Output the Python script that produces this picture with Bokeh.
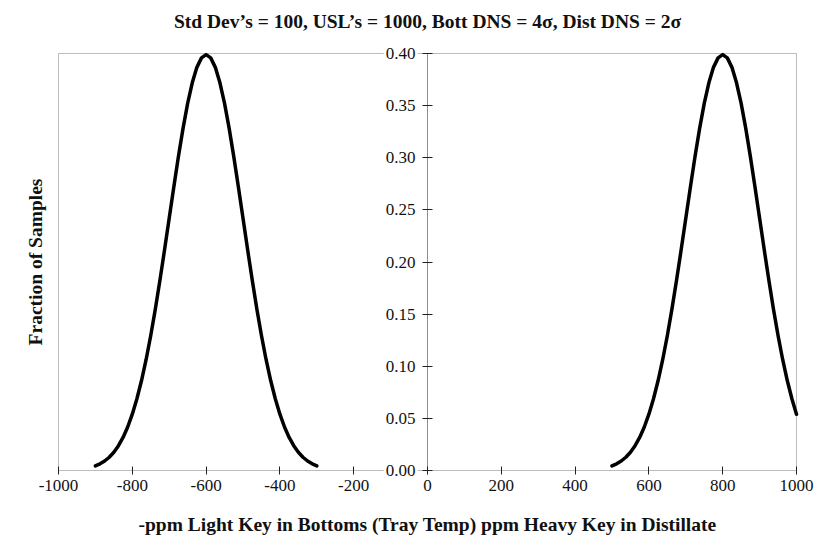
import math
from bokeh.plotting import figure
from bokeh.models import (Range1d, LinearAxis, FixedTicker, Label, BoxAnnotation)
from bokeh.embed import file_html
from bokeh.resources import INLINE

# ---- data ----
bott_x = [-900, -887.5, -875, -862.5, -850, -837.5, -825, -812.5, -800, -787.5, -775, -762.5,
          -750, -737.5, -725, -712.5, -700, -687.5, -675, -662.5, -650, -637.5, -625, -612.5,
          -600, -587.5, -575, -562.5, -550, -537.5, -525, -512.5, -500, -487.5, -475, -462.5,
          -450, -437.5, -425, -412.5, -400, -387.5, -375, -362.5, -350, -337.5, -325, -312.5, -300]
bott_y = [0.0044, 0.0064, 0.0091, 0.0127, 0.0175, 0.0238, 0.0317, 0.0417, 0.0540, 0.0688,
          0.0863, 0.1065, 0.1295, 0.1550, 0.1827, 0.2119, 0.2420, 0.2720, 0.3011, 0.3282,
          0.3521, 0.3719, 0.3867, 0.3958, 0.3989, 0.3958, 0.3867, 0.3719, 0.3521, 0.3282,
          0.3011, 0.2720, 0.2420, 0.2119, 0.1827, 0.1550, 0.1295, 0.1065, 0.0863, 0.0688,
          0.0540, 0.0417, 0.0317, 0.0238, 0.0175, 0.0127, 0.0091, 0.0064, 0.0044]
dist_x = [500, 512.5, 525, 537.5, 550, 562.5, 575, 587.5, 600, 612.5, 625, 637.5, 650, 662.5,
          675, 687.5, 700, 712.5, 725, 737.5, 750, 762.5, 775, 787.5, 800, 812.5, 825, 837.5,
          850, 862.5, 875, 887.5, 900, 912.5, 925, 937.5, 950, 962.5, 975, 987.5, 1000]
dist_y = [0.0044, 0.0064, 0.0091, 0.0127, 0.0175, 0.0238, 0.0317, 0.0417, 0.0540, 0.0688,
          0.0863, 0.1065, 0.1295, 0.1550, 0.1827, 0.2119, 0.2420, 0.2720, 0.3011, 0.3282,
          0.3521, 0.3719, 0.3867, 0.3958, 0.3989, 0.3958, 0.3867, 0.3719, 0.3521, 0.3282,
          0.3011, 0.2720, 0.2420, 0.2119, 0.1827, 0.1550, 0.1295, 0.1065, 0.0863, 0.0688,
          0.0540]
x_ticks = [-1000, -800, -600, -400, -200, 0, 200, 400, 600, 800, 1000]
x_tick_labels = ["-1000", "-800", "-600", "-400", "-200", "0", "200", "400", "600", "800", "1000"]
y_ticks = [0.0, 0.05, 0.10, 0.15, 0.20, 0.25, 0.30, 0.35, 0.40]
y_tick_labels = ["0.00", "0.05", "0.10", "0.15", "0.20", "0.25", "0.30", "0.35", "0.40"]

title_text = "Std Dev\u2019s = 100, USL\u2019s = 1000, Bott DNS = 4\u03c3, Dist DNS = 2\u03c3"
x_label = "-ppm Light Key in Bottoms (Tray Temp) ppm Heavy Key in Distillate"
y_label = "Fraction of Samples"

FONT = "Liberation Serif"
AX = "#222222"
TXT = "#111111"

# layout (pixels): the plotted box spans x 58..796, y 53..470; the drawing frame
# covers the whole canvas so that no text is clipped.
W, H = 815, 537
BOX_LEFT, BOX_RIGHT = 58, 796
BOX_TOP, BOX_BOTTOM = 53, 470
x0, x1 = x_ticks[0], x_ticks[-1]
y0, y1 = y_ticks[0], y_ticks[-1]
xpp = (x1 - x0) / (BOX_RIGHT - BOX_LEFT)
ypp = (y1 - y0) / (BOX_BOTTOM - BOX_TOP)
xmid = (x0 + x1) / 2
ymid = (y0 + y1) / 2

p = figure(width=W, height=H, output_backend="svg", toolbar_location=None,
           x_range=Range1d(x0 - BOX_LEFT * xpp, x1 + (W - BOX_RIGHT) * xpp),
           y_range=Range1d(y0 - (H - BOX_BOTTOM) * ypp, y1 + BOX_TOP * ypp),
           y_axis_location=None, x_axis_location="below",
           min_border_left=0, min_border_right=0,
           min_border_top=0, min_border_bottom=0)
p.outline_line_color = None
p.xgrid.visible = False
p.ygrid.visible = False
p.background_fill_color = "white"
p.border_fill_color = "white"

# curves
p.line(bott_x, bott_y, line_color="black", line_width=3.5, line_cap="round", line_join="round")
p.line(dist_x, dist_y, line_color="black", line_width=3.5, line_cap="round", line_join="round")

# bottom x axis (ticks and labels), fixed at y = 0; its line is the box edge
xa = p.xaxis[0]
xa.fixed_location = y0
xa.ticker = FixedTicker(ticks=x_ticks)
xa.major_label_overrides = {t: s for t, s in zip(x_ticks, x_tick_labels)}
xa.minor_tick_line_color = None
xa.major_tick_in = 4
xa.major_tick_out = 4
xa.axis_line_color = None
xa.major_tick_line_color = AX
xa.major_label_text_font = FONT
xa.major_label_text_font_size = "17px"
xa.major_label_text_color = TXT
xa.major_label_standoff = 5

# plot box
p.add_layout(BoxAnnotation(left=x0, right=x1, bottom=y0, top=y1,
                           fill_alpha=0, fill_color=None, line_color=AX, line_width=1))
# central y axis line and ticks at x = 0
p.add_layout(BoxAnnotation(left=xmid, right=xmid, bottom=y0, top=y1,
                           fill_alpha=0, fill_color=None, line_color=AX, line_width=1))
ya = LinearAxis(ticker=FixedTicker(ticks=y_ticks), fixed_location=xmid,
                axis_line_color=None, major_tick_line_color=AX,
                minor_tick_line_color=None, major_tick_in=5, major_tick_out=5,
                major_label_overrides={t: "" for t in y_ticks}, major_label_standoff=0)
p.add_layout(ya, "left")

lab_props = Label.properties()
for t, s in zip(y_ticks, y_tick_labels):
    kw = dict(x=xmid, y=t, text=s, x_offset=-10, text_align="right",
              text_baseline="middle", text_font=FONT, text_font_size="17px",
              text_color=TXT, background_fill_color="white")
    if "padding" in lab_props:
        kw["padding"] = 2
    p.add_layout(Label(**kw))

# titles
p.add_layout(Label(x=xmid, y=y1, y_offset=32, text=title_text,
                   text_align="center", text_baseline="alphabetic", text_font=FONT,
                   text_font_style="bold", text_font_size="19.5px", text_color=TXT))
p.add_layout(Label(x=xmid, y=y0, y_offset=-54, text=x_label,
                   text_align="center", text_baseline="alphabetic", text_font=FONT,
                   text_font_style="bold", text_font_size="19.5px", text_color=TXT))
p.add_layout(Label(x=x0, y=ymid, x_offset=-23, text=y_label, angle=math.pi / 2,
                   text_align="center", text_baseline="middle", text_font=FONT,
                   text_font_style="bold", text_font_size="19.5px", text_color=TXT))

open("out.html", "w").write(file_html(p, INLINE))
